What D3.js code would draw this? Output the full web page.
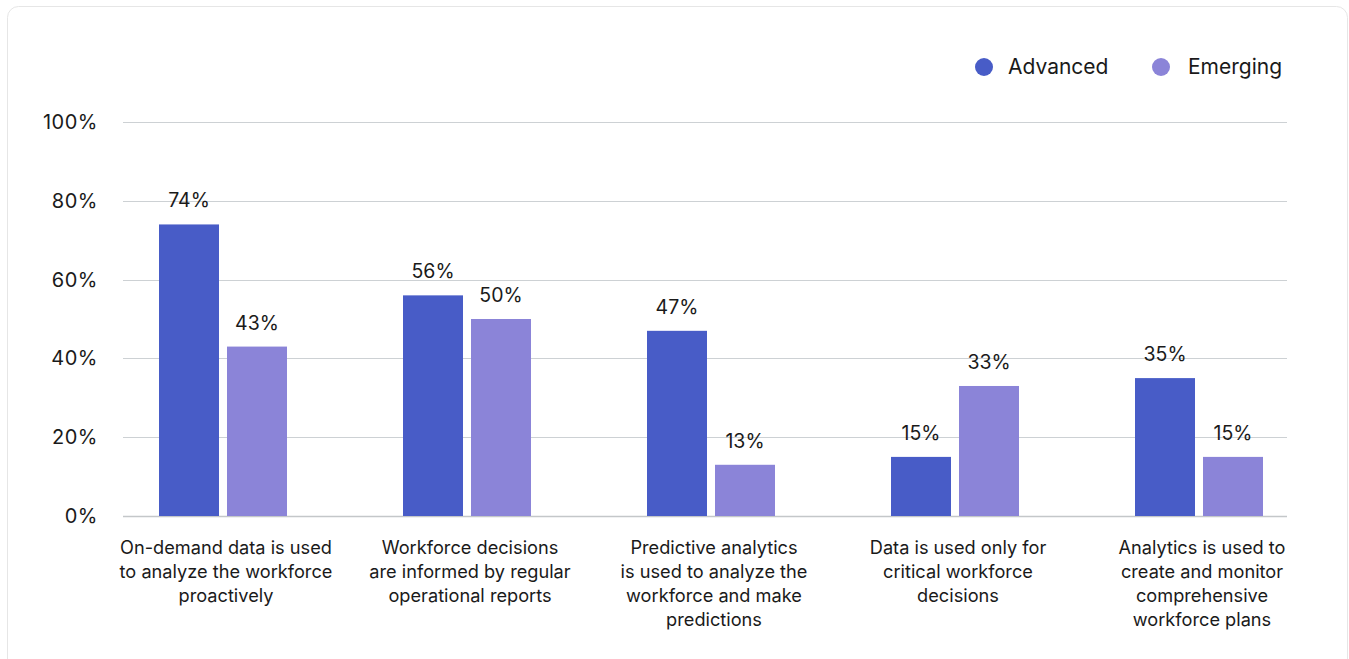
<!DOCTYPE html>
<html>
<head>
<meta charset="utf-8">
<script src="https://cdn.jsdelivr.net/npm/d3@7"></script>
<style>
  html, body { margin: 0; padding: 0; background: #ffffff; }
  svg { display: block; }
</style>
</head>
<body>
<svg id="chart" width="1349" height="659"></svg>
<script>
const categories = [
  ["On-demand data is used", "to analyze the workforce", "proactively"],
  ["Workforce decisions", "are informed by regular", "operational reports"],
  ["Predictive analytics", "is used to analyze the", "workforce and make", "predictions"],
  ["Data is used only for", "critical workforce", "decisions"],
  ["Analytics is used to", "create and monitor", "comprehensive", "workforce plans"]
];
const seriesNames = ["Advanced", "Emerging"];
const advanced = [74, 56, 47, 15, 35];
const emerging = [43, 50, 13, 33, 15];
const yTicks = [0, 20, 40, 60, 80, 100];
const colors = ["#485cc7", "#8b84d8"];

const svg = d3.select("#chart");
const font = "Inter, 'Noto Sans', sans-serif";

// card
svg.append("rect")
  .attr("x", 7.5).attr("y", 6.5)
  .attr("width", 1340).attr("height", 700)
  .attr("rx", 11)
  .attr("fill", "#fff")
  .attr("stroke", "#e6e6e6")
  .attr("stroke-width", 1);

const y = d3.scaleLinear().domain([0, 100]).range([516, 122]);
const x0 = d3.scaleBand().domain(d3.range(categories.length)).range([101, 1321]).padding(0);
const x1 = d3.scaleBand().domain(seriesNames).range([-64, 64]).paddingInner(8 / 68).paddingOuter(0);

// y axis labels
const yAxis = d3.axisLeft(y).tickValues(yTicks).tickSize(0).tickFormat(d => d + "%");
const gAxis = svg.append("g").attr("transform", "translate(98,0)").call(yAxis);
gAxis.select(".domain").remove();
gAxis.selectAll("text")
  .attr("x", 0)
  .attr("font-family", font)
  .attr("font-size", 20)
  .attr("letter-spacing", 0.5)
  .attr("fill", "#1a1a1a");

// gridlines
svg.append("g").selectAll("line")
  .data(yTicks)
  .join("line")
  .attr("x1", 123).attr("x2", 1287)
  .attr("y1", d => Math.round(y(d)) + 0.5)
  .attr("y2", d => Math.round(y(d)) + 0.5)
  .attr("stroke", d => d === 0 ? "#c4c7c9" : "#cdd1d4")
  .attr("stroke-width", d => d === 0 ? 1.5 : 1);

// bars
const data = categories.map((c, i) => ({ i, vals: [advanced[i], emerging[i]] }));
const groups = svg.append("g").selectAll("g")
  .data(data)
  .join("g")
  .attr("transform", d => `translate(${x0(d.i) + x0.bandwidth() / 2},0)`);

groups.selectAll("rect")
  .data(d => d.vals.map((v, k) => ({ v, s: seriesNames[k], k })))
  .join("rect")
  .attr("x", d => x1(d.s))
  .attr("width", x1.bandwidth())
  .attr("y", d => y(d.v))
  .attr("height", d => y(0) - y(d.v))
  .attr("fill", d => colors[d.k]);

groups.selectAll("text.val")
  .data(d => d.vals.map((v, k) => ({ v, s: seriesNames[k], k })))
  .join("text")
  .attr("class", "val")
  .attr("x", d => x1(d.s) + x1.bandwidth() / 2)
  .attr("y", d => y(d.v) - 17)
  .attr("text-anchor", "middle")
  .attr("font-family", font)
  .attr("font-size", 19.5)
  .attr("fill", "#1a1a1a")
  .text(d => d.v + "%");

// category labels
groups.append("text")
  .attr("text-anchor", "middle")
  .attr("font-family", font)
  .attr("font-size", 18.2)
  .attr("fill", "#1a1a1a")
  .selectAll("tspan")
  .data(d => categories[d.i])
  .join("tspan")
  .attr("x", 3)
  .attr("y", (d, j) => 554 + j * 24)
  .text(d => d);

// legend
const legendX = [984, 1161];
const legend = svg.append("g").selectAll("g")
  .data(seriesNames)
  .join("g")
  .attr("transform", (d, i) => `translate(${legendX[i]},67)`);
legend.append("circle").attr("r", 9).attr("fill", (d, i) => colors[i]);
legend.append("text")
  .attr("x", (d, i) => i === 0 ? 24 : 27)
  .attr("dy", "0.35em")
  .attr("font-family", font)
  .attr("font-size", 21)
  .attr("fill", "#1a1a1a")
  .text(d => d);
</script>
</body>
</html>
